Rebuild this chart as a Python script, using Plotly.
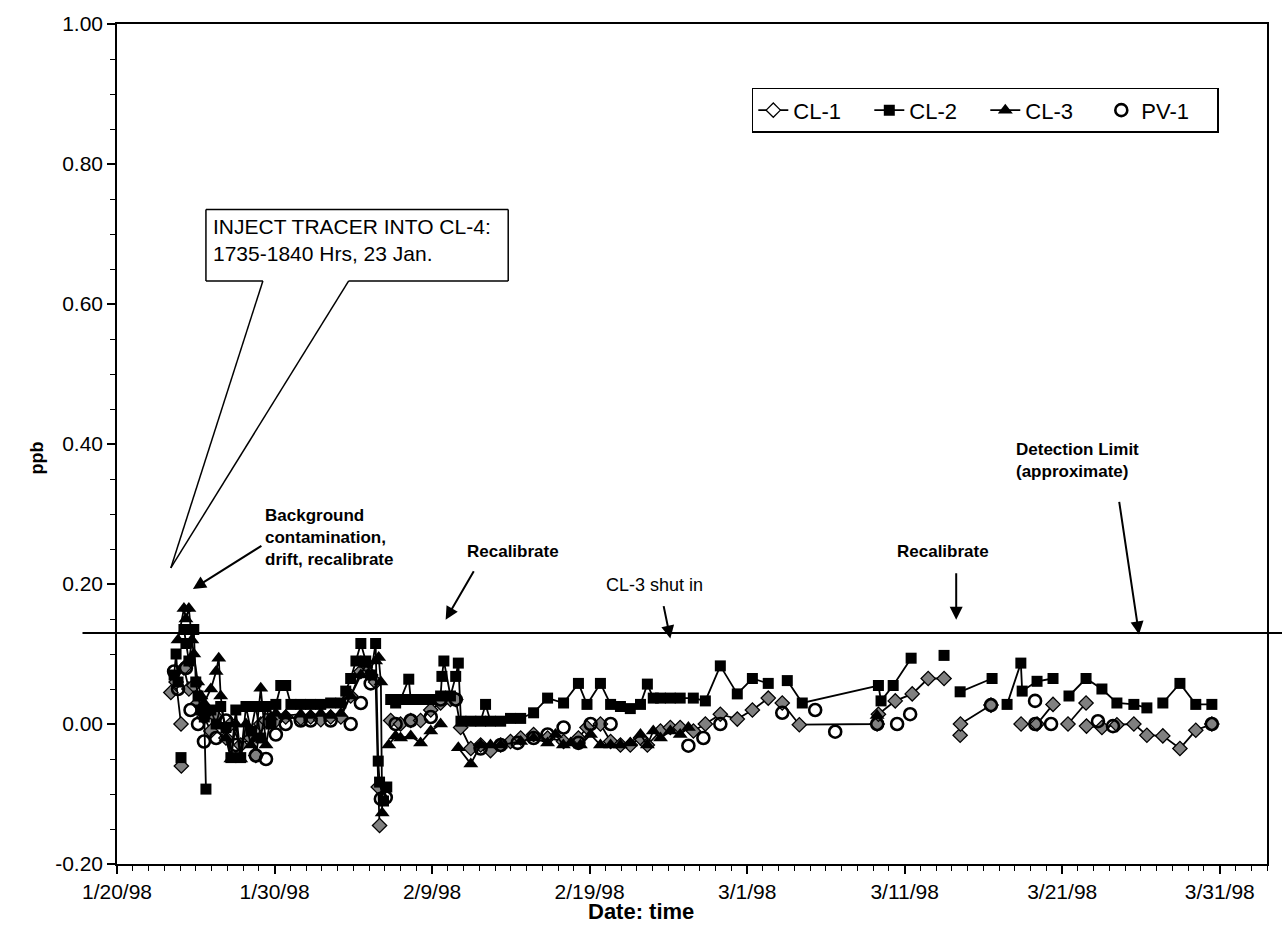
import plotly.graph_objects as go

FONT = "Liberation Sans, Arial, sans-serif"

# ---------------- data ----------------
cl1_x = ["1998-01-23 10:00", "1998-01-23 18:00", "1998-01-24 01:30", "1998-01-24 01:45", "1998-01-24 02:00",
         "1998-01-24 04:00", "1998-01-24 06:00", "1998-01-24 13:30", "1998-01-24 21:00", "1998-01-25 03:30",
         "1998-01-25 12:30", "1998-01-25 23:00", "1998-01-26 07:00", "1998-01-26 22:00", "1998-01-27 05:30",
         "1998-01-27 20:30", "1998-01-28 12:00", "1998-01-28 19:30", "1998-01-29 03:00", "1998-01-29 11:00",
         "1998-01-30 02:00", "1998-01-30 17:00", "1998-01-31 16:00", "1998-02-01 07:00", "1998-02-01 22:30",
         "1998-02-02 13:30", "1998-02-03 05:00", "1998-02-03 20:00", "1998-02-04 11:30", "1998-02-04 19:00",
         "1998-02-05 02:30", "1998-02-05 10:00", "1998-02-05 14:00", "1998-02-05 16:00", "1998-02-06 00:00",
         "1998-02-06 09:00", "1998-02-07 00:00", "1998-02-07 15:30", "1998-02-08 06:30", "1998-02-08 22:00",
         "1998-02-09 13:00", "1998-02-10 04:00", "1998-02-10 12:00", "1998-02-10 19:30", "1998-02-11 11:00",
         "1998-02-12 02:00", "1998-02-12 17:00", "1998-02-13 08:30", "1998-02-13 23:30", "1998-02-14 15:00",
         "1998-02-15 10:40", "1998-02-16 08:00", "1998-02-17 08:20", "1998-02-18 07:00", "1998-02-18 20:00",
         "1998-02-19 16:30", "1998-02-20 08:00", "1998-02-20 23:00", "1998-02-21 14:00", "1998-02-22 05:30",
         "1998-02-22 16:00", "1998-02-23 12:00", "1998-02-24 03:00", "1998-02-24 18:00", "1998-02-25 14:10",
         "1998-02-26 08:20", "1998-02-27 07:10", "1998-02-28 09:00", "1998-03-01 08:00", "1998-03-02 08:10",
         "1998-03-02 20:00", "1998-03-03 05:30", "1998-03-04 07:30", "1998-03-09 06:00", "1998-03-09 08:00",
         "1998-03-10 09:40", "1998-03-11 11:30", "1998-03-12 11:50", "1998-03-13 12:00", "1998-03-14 00:00",
         "1998-03-14 12:30", "1998-03-14 13:00", "1998-03-16 11:30", "1998-03-17 00:00", "1998-03-18 09:20",
         "1998-03-19 09:40", "1998-03-20 10:00", "1998-03-20 20:00", "1998-03-21 08:50", "1998-03-22 12:20",
         "1998-03-22 12:40", "1998-03-22 13:00", "1998-03-23 12:30", "1998-03-24 11:20", "1998-03-25 13:10",
         "1998-03-26 09:00", "1998-03-27 09:20", "1998-03-28 11:20", "1998-03-29 11:30", "1998-03-30 12:00"]
cl1_y = [0.045, 0.06, 0.0, None, -0.06,
         None, 0.08, 0.05, 0.055, 0.03,
         0.01, -0.01, 0.01, -0.02, 0.0,
         -0.03, -0.02, -0.045, 0.0, 0.005,
         0.005, 0.01, 0.008, 0.01, 0.006,
         0.01, 0.01, 0.04, 0.075, 0.085,
         0.07, 0.06, -0.09, -0.145, None,
         0.005, 0.0, 0.005, 0.005, 0.02,
         0.03, 0.035, 0.035, -0.005, -0.035,
         -0.03, -0.038, -0.03, -0.025, -0.02,
         -0.015, -0.02, -0.025, -0.02, -0.005,
         0.0, -0.025, -0.03, -0.03, -0.02,
         -0.03, -0.01, -0.005, -0.005, -0.01,
         0.0, 0.014, 0.007, 0.02, 0.037,
         None, 0.03, -0.001, 0.0, 0.014,
         0.033, 0.043, 0.065, 0.065, None,
         -0.016, 0.0, 0.027, None, 0.0,
         0.0, 0.028, None, 0.0, 0.03,
         None, -0.003, -0.005, -0.001, 0.0,
         -0.016, -0.017, -0.035, -0.009, 0.0]

cl2_x = ["1998-01-23 15:00", "1998-01-23 18:00", "1998-01-23 21:00", "1998-01-24 00:00", "1998-01-24 01:30",
         "1998-01-24 04:00", "1998-01-24 06:00", "1998-01-24 09:00", "1998-01-24 13:30", "1998-01-24 21:00",
         "1998-01-25 00:00", "1998-01-25 03:30", "1998-01-25 08:00", "1998-01-25 13:00", "1998-01-25 15:30",
         "1998-01-25 18:00", "1998-01-25 23:00", "1998-01-26 07:00", "1998-01-26 14:00", "1998-01-26 22:00",
         "1998-01-27 05:30", "1998-01-27 13:00", "1998-01-27 20:30", "1998-01-28 04:30", "1998-01-28 12:00",
         "1998-01-28 19:30", "1998-01-29 03:00", "1998-01-29 11:00", "1998-01-29 18:30", "1998-01-30 02:00",
         "1998-01-30 09:30", "1998-01-30 17:00", "1998-01-31 01:00", "1998-01-31 16:00", "1998-02-01 07:00",
         "1998-02-01 22:30", "1998-02-02 13:30", "1998-02-03 05:00", "1998-02-03 12:30", "1998-02-03 20:00",
         "1998-02-04 04:00", "1998-02-04 11:30", "1998-02-04 19:00", "1998-02-05 02:30", "1998-02-05 10:00",
         "1998-02-05 14:00", "1998-02-05 16:00", "1998-02-05 22:00", "1998-02-06 03:00", "1998-02-06 06:00",
         "1998-02-06 09:00", "1998-02-06 16:30", "1998-02-07 00:00", "1998-02-07 12:30", "1998-02-07 15:30",
         "1998-02-08 06:30", "1998-02-08 22:00", "1998-02-09 13:00", "1998-02-09 15:00", "1998-02-09 18:00",
         "1998-02-10 04:00", "1998-02-10 12:00", "1998-02-10 16:00", "1998-02-10 20:00", "1998-02-11 11:00",
         "1998-02-12 02:00", "1998-02-12 09:30", "1998-02-12 17:00", "1998-02-13 08:30", "1998-02-13 23:30",
         "1998-02-14 15:00", "1998-02-15 10:40", "1998-02-16 08:00", "1998-02-17 08:20", "1998-02-18 07:00",
         "1998-02-18 20:00", "1998-02-19 16:30", "1998-02-20 08:00", "1998-02-20 23:00", "1998-02-21 14:00",
         "1998-02-22 05:30", "1998-02-22 16:00", "1998-02-23 01:00", "1998-02-23 12:00", "1998-02-24 03:00",
         "1998-02-24 18:00", "1998-02-25 14:00", "1998-02-26 08:20", "1998-02-27 07:10", "1998-02-28 09:00",
         "1998-03-01 08:00", "1998-03-02 08:10", "1998-03-02 20:00", "1998-03-03 13:10", "1998-03-04 12:00",
         "1998-03-09 08:00", "1998-03-09 12:00", "1998-03-10 06:30", "1998-03-11 09:50", "1998-03-12 00:00",
         "1998-03-13 12:00", "1998-03-14 00:00", "1998-03-14 12:30", "1998-03-16 13:10", "1998-03-17 00:00",
         "1998-03-17 12:00", "1998-03-18 09:00", "1998-03-18 11:00", "1998-03-19 09:40", "1998-03-20 10:00",
         "1998-03-20 20:00", "1998-03-21 10:20", "1998-03-22 12:20", "1998-03-23 12:30", "1998-03-24 11:20",
         "1998-03-25 13:10", "1998-03-26 09:00", "1998-03-26 20:00", "1998-03-27 09:20", "1998-03-28 11:20",
         "1998-03-29 11:30", "1998-03-30 12:00"]
cl2_y = [0.07, 0.10, 0.06, None, -0.048,
         None, 0.135, 0.115, 0.09, 0.135,
         0.06, 0.04, 0.02, 0.01, -0.093,
         None, 0.02, 0.0, 0.025, -0.005,
         -0.048, 0.02, -0.048, 0.025, -0.01,
         0.025, -0.02, 0.025, 0.0, 0.028,
         0.055, 0.055, 0.028, 0.028, 0.028,
         0.028, 0.03, 0.03, 0.047, 0.065,
         0.09, 0.115, 0.09, 0.07, 0.115,
         -0.053, -0.083, -0.11, -0.09, None,
         0.035, 0.03, 0.035, 0.064, 0.035,
         0.035, 0.035, 0.04, 0.068, 0.09,
         0.04, 0.068, 0.087, 0.004, 0.004,
         0.004, 0.028, 0.004, 0.004, 0.008,
         0.008, 0.016, 0.037, 0.03, 0.058,
         0.028, 0.058, 0.028, 0.025, 0.022,
         0.028, 0.057, 0.037, 0.037, 0.037,
         0.037, 0.037, 0.033, 0.083, 0.043,
         0.065, 0.058, None, 0.062, 0.03,
         0.055, 0.033, 0.055, 0.094, None,
         0.098, None, 0.046, 0.065, None,
         0.028, 0.087, 0.047, 0.061, 0.065,
         None, 0.04, 0.065, 0.05, 0.03,
         0.028, 0.023, None, 0.03, 0.058,
         0.028, 0.028]

cl3_x = ["1998-01-23 21:00", "1998-01-24 06:00", "1998-01-24 09:00", "1998-01-24 13:30", "1998-01-24 18:00",
         "1998-01-24 21:00", "1998-01-25 03:00", "1998-01-25 08:00", "1998-01-25 12:30", "1998-01-25 23:00",
         "1998-01-26 07:00", "1998-01-26 11:00", "1998-01-26 14:00", "1998-01-26 22:00", "1998-01-27 05:30",
         "1998-01-27 13:00", "1998-01-27 20:30", "1998-01-28 04:30", "1998-01-28 12:00", "1998-01-28 19:30",
         "1998-01-29 03:00", "1998-01-29 11:00", "1998-01-29 18:30", "1998-01-30 02:00", "1998-01-30 17:00",
         "1998-01-31 16:00", "1998-02-01 07:00", "1998-02-01 22:30", "1998-02-02 13:30", "1998-02-03 05:00",
         "1998-02-03 20:00", "1998-02-04 11:30", "1998-02-04 19:00", "1998-02-05 10:00", "1998-02-05 14:40",
         "1998-02-05 18:00", "1998-02-05 20:00", "1998-02-06 02:00", "1998-02-06 06:00", "1998-02-06 16:30",
         "1998-02-07 00:00", "1998-02-07 15:30", "1998-02-08 06:30", "1998-02-08 22:00", "1998-02-09 13:00",
         "1998-02-10 00:00", "1998-02-10 16:00", "1998-02-11 11:00", "1998-02-12 02:00", "1998-02-12 17:00",
         "1998-02-13 08:30", "1998-02-14 15:00", "1998-02-15 10:40", "1998-02-16 08:00", "1998-02-16 20:00",
         "1998-02-17 08:00", "1998-02-17 19:00", "1998-02-18 10:00", "1998-02-19 01:30", "1998-02-19 16:30",
         "1998-02-20 08:00", "1998-02-20 23:00", "1998-02-21 14:00", "1998-02-22 05:30", "1998-02-22 16:00",
         "1998-02-23 01:00", "1998-02-23 12:00", "1998-02-24 03:00", "1998-02-24 18:00", "1998-02-25 06:30",
         "1998-02-26 00:00", "1998-03-09 06:00"]
cl3_y = [0.12, 0.165, 0.15, 0.165, 0.12,
         0.10, 0.06, 0.04, 0.03, 0.05,
         0.075, 0.094, 0.04, -0.02, -0.05,
         0.0, -0.05, 0.0, -0.03, -0.02,
         0.051, -0.03, 0.01, 0.015, 0.012,
         0.014, 0.012, 0.015, 0.012, 0.015,
         0.04, 0.07, 0.085, 0.09, 0.095,
         0.06, -0.127, None, -0.03, -0.017,
         -0.02, -0.017, -0.027, -0.01, 0.0,
         None, -0.034, -0.057, -0.03, -0.03,
         -0.03, -0.025, -0.02, -0.027, -0.015,
         -0.03, -0.027, -0.03, -0.015, -0.03,
         -0.03, -0.03, -0.027, -0.015, -0.03,
         -0.01, -0.02, -0.01, -0.015, -0.005,
         None, 0.012]

pv1_x = ["1998-01-23 15:00", "1998-01-23 21:00", "1998-01-24 09:00", "1998-01-24 16:00", "1998-01-25 03:30",
         "1998-01-25 12:30", "1998-01-26 07:00", "1998-01-26 22:00", "1998-01-27 13:00", "1998-01-28 19:30",
         "1998-01-29 11:00", "1998-01-30 02:00", "1998-01-30 17:00", "1998-01-31 16:00", "1998-02-01 07:00",
         "1998-02-02 13:30", "1998-02-03 20:00", "1998-02-04 11:30", "1998-02-05 02:30", "1998-02-05 18:00",
         "1998-02-06 01:30", "1998-02-06 16:30", "1998-02-07 15:30", "1998-02-08 22:00", "1998-02-09 13:00",
         "1998-02-10 12:00", "1998-02-12 02:00", "1998-02-13 08:30", "1998-02-14 10:20", "1998-02-15 10:40",
         "1998-02-16 08:00", "1998-02-17 08:20", "1998-02-18 07:00", "1998-02-19 01:30", "1998-02-20 08:00",
         "1998-02-25 06:30", "1998-02-26 05:20", "1998-02-27 07:10", "1998-03-03 05:30", "1998-03-05 07:40",
         "1998-03-06 14:10", "1998-03-09 06:10", "1998-03-10 12:30", "1998-03-11 08:20", "1998-03-16 11:30",
         "1998-03-19 06:40", "1998-03-19 07:00", "1998-03-20 07:00", "1998-03-23 06:30", "1998-03-24 05:20",
         "1998-03-30 12:00"]
pv1_y = [0.075, 0.05, 0.08, 0.02, 0.0,
         -0.025, -0.02, 0.005, -0.03, -0.045,
         -0.05, -0.015, 0.0, 0.005, 0.005,
         0.005, 0.0, 0.03, 0.058, -0.107,
         -0.105, 0.0, 0.005, 0.01, 0.035,
         0.035, -0.035, -0.03, -0.027, -0.02,
         -0.015, -0.005, -0.027, 0.0, 0.0,
         -0.031, -0.02, 0.0, 0.016, 0.02,
         -0.011, 0.0, 0.0, 0.014, 0.027,
         0.033, 0.0, 0.0, 0.004, -0.003,
         0.0]

detection_limit = 0.13

x_tick_dates = ["1998-01-20", "1998-01-30", "1998-02-09", "1998-02-19",
                "1998-03-01", "1998-03-11", "1998-03-21", "1998-03-31"]
x_tick_labels = ["1/20/98", "1/30/98", "2/9/98", "2/19/98",
                 "3/1/98", "3/11/98", "3/21/98", "3/31/98"]
y_tick_vals = [-0.2, 0.0, 0.2, 0.4, 0.6, 0.8, 1.0]
y_tick_labels = ["-0.20", "0.00", "0.20", "0.40", "0.60", "0.80", "1.00"]

# ---------------- figure ----------------
fig = go.Figure()
line_style = dict(color="black", width=1.8)

diamond_data = dict(symbol="diamond", size=11, color="#808080", line=dict(color="black", width=1.3))
square_mk = dict(symbol="square", size=11, color="black")
triangle_mk = dict(symbol="triangle-up", size=13, color="black")
circle_mk = dict(symbol="circle-open", size=12, color="black", line=dict(width=2.6))

fig.add_trace(go.Scatter(x=cl1_x, y=cl1_y, name="CL-1", mode="lines+markers", line=line_style,
                         marker=diamond_data, showlegend=False))
fig.add_trace(go.Scatter(x=cl2_x, y=cl2_y, name="CL-2", mode="lines+markers", line=line_style,
                         marker=square_mk, showlegend=False))
fig.add_trace(go.Scatter(x=cl3_x, y=cl3_y, name="CL-3", mode="lines+markers", line=line_style,
                         marker=triangle_mk, showlegend=False))
fig.add_trace(go.Scatter(x=pv1_x, y=pv1_y, name="PV-1", mode="markers",
                         marker=circle_mk, showlegend=False))

# legend entries (the printed legend shows an open diamond for CL-1)
legend_styles = [
    ("CL-1", "lines+markers", dict(symbol="diamond", size=11, color="white", line=dict(color="black", width=1.3))),
    ("CL-2", "lines+markers", square_mk),
    ("CL-3", "lines+markers", triangle_mk),
    ("PV-1", "markers", circle_mk),
]
for nm, md, mk in legend_styles:
    fig.add_trace(go.Scatter(x=[None], y=[None], name=nm, mode=md, line=line_style, marker=mk,
                             hoverinfo="skip"))

# detection limit line (extends past the plot area, as in the original)
fig.add_shape(type="line", xref="paper", yref="y", x0=-0.03, x1=1.02,
              y0=detection_limit, y1=detection_limit, line=dict(color="black", width=2), layer="above")

# callout box for tracer injection
box_l, box_r = "1998-01-25 15:30", "1998-02-13 20:00"
box_t, box_b = 0.735, 0.633
w_l, w_r = "1998-01-29 06:15", "1998-02-03 17:00"
tip_x, tip_y = "1998-01-23 10:00", 0.223
callout = [(box_l, box_t, box_r, box_t), (box_r, box_t, box_r, box_b), (box_l, box_t, box_l, box_b),
           (box_l, box_b, w_l, box_b), (w_r, box_b, box_r, box_b),
           (w_l, box_b, tip_x, tip_y), (w_r, box_b, tip_x, tip_y)]
for x0, y0, x1, y1 in callout:
    fig.add_shape(type="line", xref="x", yref="y", x0=x0, y0=y0, x1=x1, y1=y1,
                  line=dict(color="black", width=1.5))

fig.add_annotation(x="1998-01-25 23:00", y=0.691, xref="x", yref="y",
                   text="INJECT TRACER INTO CL-4:<br>1735-1840 Hrs, 23 Jan.",
                   showarrow=False, xanchor="left", yanchor="middle", align="left",
                   font=dict(family=FONT, size=21, color="black"))

lab_font = dict(family=FONT, size=17, color="black")
texts = [
    ("1998-01-29 06:15", 0.266, "<b>Background<br>contamination,<br>drift, recalibrate</b>", "left", lab_font),
    ("1998-02-14 04:00", 0.246, "<b>Recalibrate</b>", "center", lab_font),
    ("1998-02-23 03:00", 0.199, "CL-3 shut in", "center", dict(family=FONT, size=18, color="black")),
    ("1998-03-13 10:30", 0.246, "<b>Recalibrate</b>", "center", lab_font),
    ("1998-03-17 22:30", 0.377, "<b>Detection Limit<br>(approximate)</b>", "left", lab_font),
]
for x, y, t, anc, f in texts:
    fig.add_annotation(x=x, y=y, xref="x", yref="y", text=t, showarrow=False,
                       xanchor=anc, yanchor="middle", align="left", font=f)

arrows = [
    ("1998-01-24 19:40", 0.193, 70, -44),
    ("1998-02-09 20:40", 0.149, 29, -50),
    ("1998-02-24 03:00", 0.122, -7, -34),
    ("1998-03-14 06:30", 0.149, 0, -48),
    ("1998-03-25 21:00", 0.128, -20, -134),
]
for x, y, ax, ay in arrows:
    fig.add_annotation(x=x, y=y, xref="x", yref="y", text="", showarrow=True,
                       ax=ax, ay=ay, arrowhead=2, arrowsize=1.3, arrowwidth=2, arrowcolor="black")

# axis titles
fig.add_annotation(x=0.4557, y=-0.0568, xref="paper", yref="paper", text="<b>Date: time</b>",
                   showarrow=False, xanchor="center", yanchor="middle",
                   font=dict(family=FONT, size=22, color="black"))
fig.add_annotation(x=-0.0696, y=0.484, xref="paper", yref="paper", text="<b>ppb</b>",
                   showarrow=False, textangle=-90, xanchor="center", yanchor="middle",
                   font=dict(family=FONT, size=18, color="black"))

fig.update_layout(
    width=1282, height=938,
    margin=dict(l=117, r=15, t=19, b=74),
    paper_bgcolor="white", plot_bgcolor="white",
    font=dict(family=FONT, color="black"),
    showlegend=True,
    legend=dict(orientation="h", x=0.552, y=0.924, xanchor="left", yanchor="top",
                bordercolor="black", borderwidth=1.5, bgcolor="white",
                font=dict(family=FONT, size=22, color="black"),
                entrywidth=71, entrywidthmode="pixels"),
    xaxis=dict(type="date", range=["1998-01-20", "1998-04-03"],
               tickvals=x_tick_dates, ticktext=x_tick_labels,
               ticks="outside", ticklen=8, tickwidth=1.5, tickcolor="black",
               minor=dict(dtick=86400000, tick0="1998-01-20", ticks="outside", ticklen=5,
                          tickcolor="black", tickwidth=1),
               showline=True, linecolor="black", linewidth=1.5, mirror=True,
               showgrid=False, zeroline=False,
               tickfont=dict(family=FONT, size=21, color="black")),
    yaxis=dict(range=[-0.2, 1.0], tickvals=y_tick_vals, ticktext=y_tick_labels,
               ticks="outside", ticklen=8, tickwidth=1.5, tickcolor="black",
               minor=dict(dtick=0.05, tick0=0, ticks="outside", ticklen=5,
                          tickcolor="black", tickwidth=1),
               showline=True, linecolor="black", linewidth=1.5, mirror=True,
               showgrid=False, zeroline=False,
               tickfont=dict(family=FONT, size=21, color="black")),
)

fig.write_html("out.html", config={"displayModeBar": False},
               post_script="document.body.style.margin='0';")
